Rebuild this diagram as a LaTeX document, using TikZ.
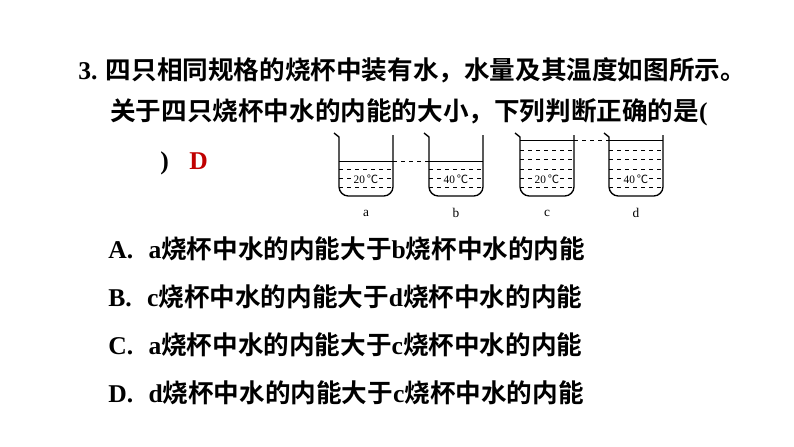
\documentclass[tikz,border=0pt]{standalone}
\usepackage{fontspec}
\setmainfont{Liberation Serif}
\newfontfamily\cjk{Noto Sans CJK SC}[BoldFont={Noto Sans CJK SC Bold}]
\definecolor{ansred}{RGB}{192,0,0}
\tikzset{txt/.style={anchor=west,inner sep=0pt,font=\fontsize{19.2pt}{22pt}\selectfont\bfseries},
 lbl/.style={font=\fontsize{10pt}{12pt}\selectfont},
 temp/.style={fill=white,inner sep=0.5pt,font=\fontsize{8.5pt}{10pt}\selectfont},
 glass/.style={line width=1pt},
 lvl/.style={dashed,line width=0.6pt}}
\newcommand{\beaker}[5]{% x, name, water y, list of dash ys, temp
  \draw[glass] (#1-5,133) -- (#1,137) [rounded corners=7pt] -- (#1,196) -- (#1+54,196) [sharp corners] -- (#1+54,135);
  \draw[line width=0.7pt] (#1,#3) coordinate (#2w) -- (#1+54,#3) coordinate (#2e);
  \foreach \yy in {#4} \draw[lvl] (#1,\yy) -- (#1+54,\yy);
  \node[temp] (#2t) at (#1+27,179) {#5\,{\cjk ℃}};
  \node[lbl] (#2l) at (#1+27,213) {#2};
}
\begin{document}
\begin{tikzpicture}[x=0.75pt,y=-0.75pt]
\useasboundingbox (0,0) rectangle (794,447);
\node[txt] (q1) at (78,70) {3. {\cjk 四只相同规格的烧杯中装有水，水量及其温度如图所示。}};
\node[txt] (q2) at (110,112) {{\cjk 关于四只烧杯中水的内能的大小，下列判断正确的是}(};
\node[txt] (q3) at (160,163) {)\hspace{0.8em}\textcolor{ansred}{D}};
\beaker{339}{a}{161}{169,178,187}{20}
\beaker{429}{b}{161}{169,178,187}{40}
\beaker{520}{c}{140}{150,159,169,178,187}{20}
\beaker{609}{d}{140}{150,159,169,178,187}{40}
\draw[lvl] (ae) -- (bw);
\draw[lvl] (ce) -- (dw);
\node[txt] (oa) at (108,249) {A.\hspace{0.6em}a{\cjk 烧杯中水的内能大于}b{\cjk 烧杯中水的内能}};
\node[txt] (ob) at (108,297) {B.\hspace{0.6em}c{\cjk 烧杯中水的内能大于}d{\cjk 烧杯中水的内能}};
\node[txt] (oc) at (108,345) {C.\hspace{0.6em}a{\cjk 烧杯中水的内能大于}c{\cjk 烧杯中水的内能}};
\node[txt] (od) at (108,393) {D.\hspace{0.6em}d{\cjk 烧杯中水的内能大于}c{\cjk 烧杯中水的内能}};
\end{tikzpicture}
\end{document}
